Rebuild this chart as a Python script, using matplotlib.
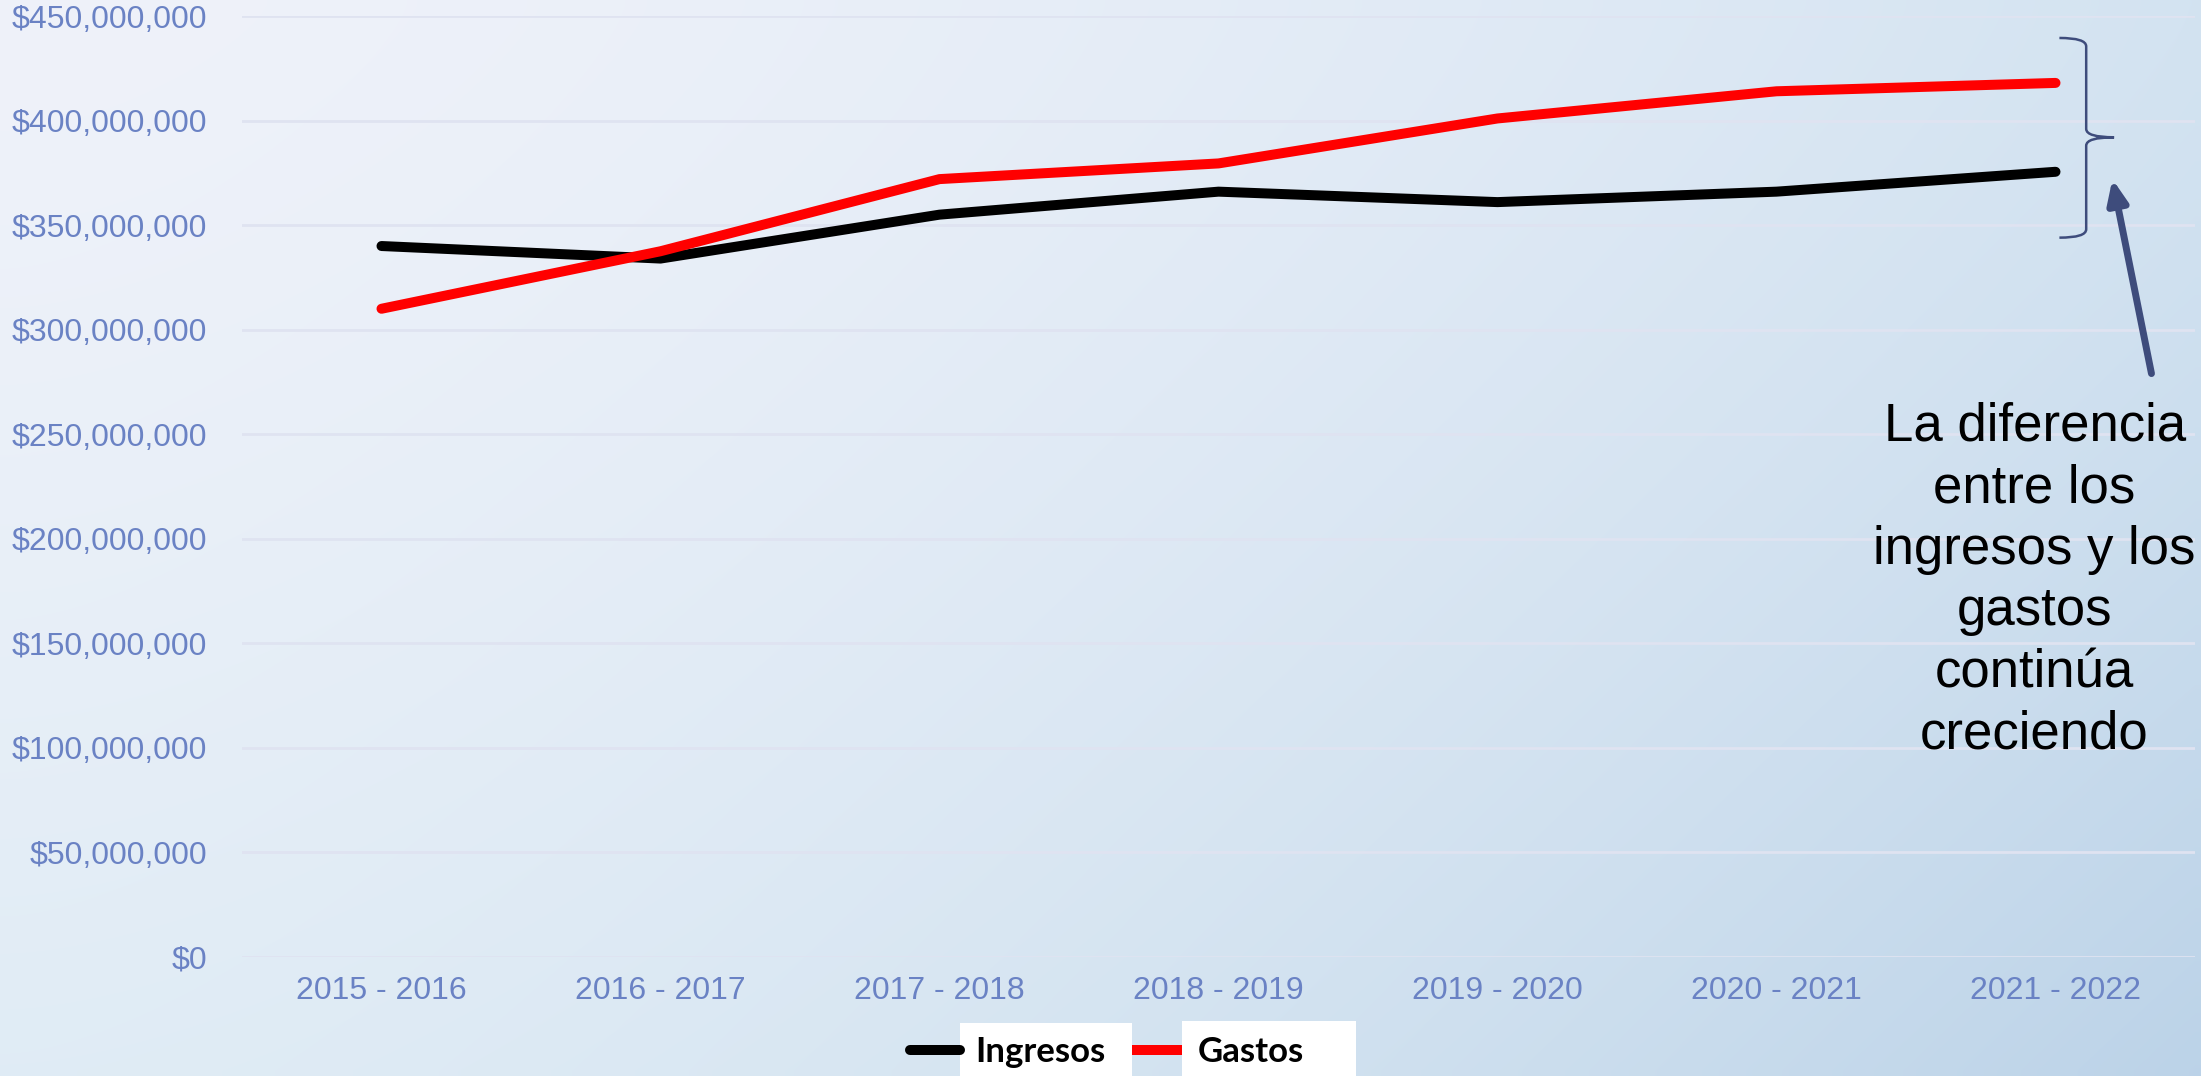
import matplotlib.pyplot as plt
import numpy as np
from matplotlib.path import Path
from matplotlib.patches import PathPatch, Rectangle
from matplotlib.lines import Line2D

periodos = ["2015 - 2016", "2016 - 2017", "2017 - 2018", "2018 - 2019",
            "2019 - 2020", "2020 - 2021", "2021 - 2022"]
ingresos = [340e6, 334e6, 355e6, 366e6, 361e6, 366e6, 375.5e6]
gastos = [310e6, 337.5e6, 372e6, 379.5e6, 401e6, 414e6, 418e6]
yticks = np.arange(0, 450e6 + 1, 50e6)
ytick_labels = ["${:,.0f}".format(v) for v in yticks]

nota = "La diferencia\nentre los\ningresos y los\ngastos\ncontinúa\ncreciendo"

tick_color = "#6a82c4"
plt.rcParams['font.family'] = ['Liberation Sans', 'DejaVu Sans']

fig = plt.figure(figsize=(22.01, 10.76), dpi=100)

# fondo degradado (claro arriba a la izquierda, azulado abajo a la derecha)
bg = fig.add_axes([0, 0, 1, 1], zorder=0)
gx, gy = np.meshgrid(np.linspace(0, 1, 200), np.linspace(0, 1, 100))
wx = gx ** 1.6
wy = gy ** 1.3
tl = np.array([0.937, 0.949, 0.980])
tr = np.array([0.827, 0.890, 0.945])
bl = np.array([0.878, 0.925, 0.961])
br = np.array([0.737, 0.827, 0.910])
img = ((1 - wx) * (1 - wy))[..., None] * tl + (wx * (1 - wy))[..., None] * tr \
    + ((1 - wx) * wy)[..., None] * bl + (wx * wy)[..., None] * br
bg.imshow(img, interpolation='bilinear', aspect='auto', extent=[0, 1, 0, 1])
bg.set_axis_off()

ax = fig.add_axes([242 / 2201, 1 - 957 / 1076, (2195 - 242) / 2201, (957 - 16) / 1076], zorder=1)
ax.set_facecolor('none')

x = np.arange(len(periodos))
ax.plot(x, ingresos, color='black', lw=7.2, solid_capstyle='round', zorder=3)
ax.plot(x, gastos, color='#ff0000', lw=7.2, solid_capstyle='round', zorder=3)

ax.set_xlim(-0.5, len(periodos) - 0.5)
ax.set_ylim(0, 450e6)
ax.set_yticks(yticks)
ax.set_yticklabels(ytick_labels)
ax.set_xticks(x)
ax.set_xticklabels(periodos)
ax.tick_params(axis='both', length=0, labelsize=23, labelcolor=tick_color)
ax.tick_params(axis='y', pad=25)
ax.tick_params(axis='x', pad=14)
ax.grid(axis='y', color='#dfe3f1', lw=2)
ax.set_axisbelow(True)
for s in ax.spines.values():
    s.set_visible(False)

# llave
xb0, xb1, xt = 6.014, 6.11, 6.21
ytop, ymid, ybot = 439.5e6, 392e6, 344e6
r = 4e6
verts = [(xb0, ytop), (xb1, ytop), (xb1, ytop - r), (xb1, ymid + r), (xb1, ymid), (xt, ymid),
         (xb1, ymid), (xb1, ymid - r), (xb1, ybot + r), (xb1, ybot), (xb0, ybot)]
codes = [Path.MOVETO, Path.CURVE3, Path.CURVE3, Path.LINETO, Path.CURVE3, Path.CURVE3,
         Path.CURVE3, Path.CURVE3, Path.LINETO, Path.CURVE3, Path.CURVE3]
ax.add_patch(PathPatch(Path(verts, codes), fill=False, ec='#3e4c7c', lw=1.8, zorder=4))

ax.annotate("", xy=(6.204, 372e6), xytext=(6.344, 279e6),
            arrowprops=dict(arrowstyle='-|>,head_length=1.4,head_width=0.6',
                            color='#3e4c7c', lw=5, shrinkA=0, shrinkB=0), zorder=4)

ax.text(5.925, 180e6, nota, ha='center', va='center', multialignment='center',
        fontsize=38, color='black', linespacing=1.30, zorder=5)

# leyenda
W, H = 2201, 1076
leg_font = dict(family=['Lato', 'DejaVu Sans'], weight='bold', fontsize=25, color='black')
fig.add_artist(Rectangle((960 / W, 0), 172 / W, 1 - 1023 / H, fc='white', ec='none',
                         transform=fig.transFigure, zorder=2))
fig.add_artist(Rectangle((1182 / W, 0), 174 / W, 1 - 1021 / H, fc='white', ec='none',
                         transform=fig.transFigure, zorder=2))
fig.add_artist(Line2D([910 / W, 960 / W], [1 - 1050 / H] * 2, color='black', lw=7.2,
                      solid_capstyle='round', zorder=3))
fig.add_artist(Line2D([1132 / W, 1182 / W], [1 - 1050 / H] * 2, color='#ff0000', lw=7.2,
                      solid_capstyle='butt', zorder=3))
fig.text(975 / W, 1 - 1052 / H, "Ingresos", va='center', ha='left', zorder=4, **leg_font)
fig.text(1198 / W, 1 - 1052 / H, "Gastos", va='center', ha='left', zorder=4, **leg_font)

fig.savefig("out.png", dpi=100)
